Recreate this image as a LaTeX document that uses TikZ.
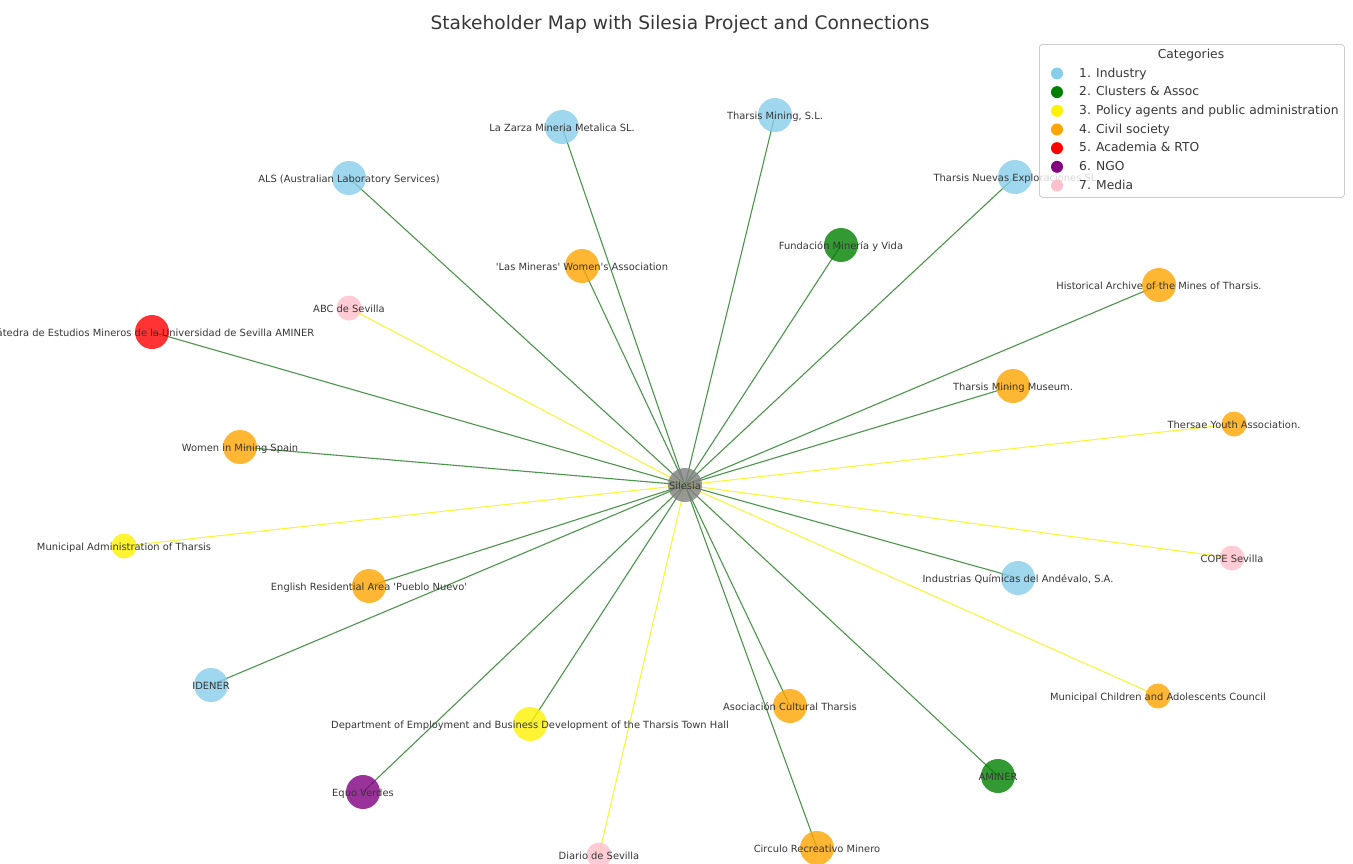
\documentclass[tikz,border=0pt]{standalone}
\usepackage{fontspec}
\setmainfont{DejaVu Sans}[Ligatures=TeXOff]
\usetikzlibrary{backgrounds}

\definecolor{skyblue}{RGB}{135,206,235}
\definecolor{mplgreen}{RGB}{0,128,0}
\definecolor{mplorange}{RGB}{255,165,0}
\definecolor{mplpurple}{RGB}{128,0,128}
\definecolor{mplpink}{RGB}{255,192,203}
\definecolor{mplgray}{RGB}{128,128,128}
\definecolor{tiegreen}{RGB}{75,150,75}
\definecolor{tieyellow}{RGB}{248,246,60}
\definecolor{inktext}{RGB}{55,55,55}

\begin{document}
\begin{tikzpicture}
    [
        x=1pt, y=-1pt,
        stake/.style = {circle, minimum size=34pt, inner sep=0pt, fill opacity=0.8},
        smallstake/.style = {stake, minimum size=25pt},
        hub/.style = {stake, fill=mplgray},
        ind/.style = {stake, fill=skyblue},
        clu/.style = {stake, fill=mplgreen},
        pol/.style = {stake, fill=yellow},
        civ/.style = {stake, fill=mplorange},
        aca/.style = {stake, fill=red},
        ngo/.style = {stake, fill=mplpurple},
        med/.style = {stake, fill=mplpink},
        lbl/.style = {font=\fontsize{9.9}{12}\selectfont, text=inktext, fill opacity=1, text opacity=1, inner sep=0pt, text height=7.6pt, text depth=2.4pt, yshift=-1.5pt},
        tie/.style = {line width=1.1pt, tiegreen},
        weaktie/.style = {line width=1.1pt, tieyellow},
        legbox/.style = {draw=black!20, fill=white, fill opacity=0.8, rounded corners=3pt, line width=0.8pt, minimum width=305pt, minimum height=153pt, inner sep=0pt},
        dot/.style = {circle, minimum size=12pt, inner sep=0pt},
        keytext/.style = {font=\fontsize{12.3}{14}\selectfont, text=inktext, inner sep=0pt},
    ]

    \useasboundingbox (0,0) rectangle (1353,863);

    \node[hub] (sil) at (685,485) [label={[lbl]center:Silesia}] {};

    \node[ind] (zarza)    at (562,127)  [label={[lbl]center:{La Zarza Mineria Metalica SL.}}] {};
    \node[ind] (thmining) at (775,115)  [label={[lbl]center:{Tharsis Mining, S.L.}}] {};
    \node[ind] (als)      at (349,178)  [label={[lbl]center:{ALS (Australian Laboratory Services)}}] {};
    \node[ind] (nuevas)   at (1015,177) [label={[lbl]center:{Tharsis Nuevas Exploraciones SL}}] {};
    \node[clu] (fund)     at (841,245)  [label={[lbl]center:{Fundación Minería y Vida}}] {};
    \node[civ] (mineras)  at (582,266)  [label={[lbl]center:{'Las Mineras' Women's Association}}] {};
    \node[med, smallstake] (abc) at (349,308) [label={[lbl]center:{ABC de Sevilla}}] {};
    \node[aca] (catedra)  at (152,332)  [label={[lbl]center:{Cátedra de Estudios Mineros de la Universidad de Sevilla AMINER}}] {};
    \node[civ] (archive)  at (1159,285) [label={[lbl]center:{Historical Archive of the Mines of Tharsis.}}] {};
    \node[civ] (museum)   at (1013,386) [label={[lbl]center:{Tharsis Mining Museum.}}] {};
    \node[civ, smallstake] (thersae) at (1234,424) [label={[lbl]center:{Thersae Youth Association.}}] {};
    \node[civ] (wims)     at (240,447)  [label={[lbl]center:{Women in Mining Spain}}] {};
    \node[pol, smallstake] (muniadm) at (124,546) [label={[lbl]center:{Municipal Administration of Tharsis}}] {};
    \node[med, smallstake] (cope) at (1232,558) [label={[lbl]center:{COPE Sevilla}}] {};
    \node[ind] (quimicas) at (1018,578) [label={[lbl]center:{Industrias Químicas del Andévalo, S.A.}}] {};
    \node[civ] (english)  at (369,586)  [label={[lbl]center:{English Residential Area 'Pueblo Nuevo'}}] {};
    \node[ind] (idener)   at (211,685)  [label={[lbl]center:IDENER}] {};
    \node[civ, smallstake] (children) at (1158,696) [label={[lbl]center:{Municipal Children and Adolescents Council}}] {};
    \node[civ] (asoc)     at (790,706)  [label={[lbl]center:{Asociación Cultural Tharsis}}] {};
    \node[pol] (dept)     at (530,724)  [label={[lbl]center:{Department of Employment and Business Development of the Tharsis Town Hall}}] {};
    \node[clu] (aminer)   at (998,776)  [label={[lbl]center:AMINER}] {};
    \node[ngo] (equo)     at (363,792)  [label={[lbl]center:{Equo Verdes}}] {};
    \node[med, smallstake] (diario) at (599,855) [label={[lbl]center:{Diario de Sevilla}}] {};
    \node[civ] (circulo)  at (817,848)  [label={[lbl]center:{Circulo Recreativo Minero}}] {};

    \begin{scope}[on background layer]
        \fill[white] (0,0) rectangle (1353,863);
        \foreach \n in {zarza,thmining,als,nuevas,fund,mineras,catedra,archive,museum,wims,quimicas,english,idener,asoc,dept,aminer,equo,circulo}
            \draw[tie] (sil.center) -- (\n.center);
        \foreach \n in {abc,thersae,muniadm,cope,children,diario}
            \draw[weaktie] (sil.center) -- (\n.center);
    \end{scope}

    % legend
    \node[legbox, anchor=north west] (legend) at (1039,44) {};
    \node[keytext] (legtitle) at (1191,55) {Categories};
    \foreach \c/\t [count=\i] in {skyblue/1. Industry, mplgreen/2. Clusters \& Assoc, yellow/3. Policy agents and public administration, mplorange/4. Civil society, red/5. Academia \& RTO, mplpurple/6. NGO, mplpink/7. Media}
    {
        \node[dot, fill=\c] (key\i) at (1057,{54.8+18.67*\i}) {};
        \node[keytext, anchor=mid west] (keytxt\i) at (1079,{55.6+18.67*\i}) {\t};
    }

    \node[font=\fontsize{18.6}{22}\selectfont, text=inktext] (title) at (680,24.5) {Stakeholder Map with Silesia Project and Connections};

\end{tikzpicture}
\end{document}
